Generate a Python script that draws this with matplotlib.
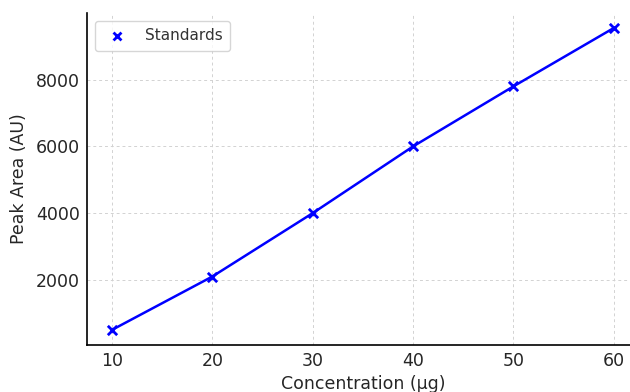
import numpy as np
import matplotlib.pyplot as plt

# Calibration standards
concentration = [10, 20, 30, 40, 50, 60]
peak_area = [500, 2100, 4000, 6000, 7800, 9550]
y_ticks = [2000, 4000, 6000, 8000]

fig = plt.figure(figsize=(6.3, 3.92), dpi=100)
ax = fig.add_axes([0.138, 0.12, 0.876, 0.847])

ax.plot(concentration, peak_area, color="blue", linewidth=1.8)
ax.scatter(concentration, peak_area, marker="x", color="blue", s=45,
           linewidths=2, label="Standards", zorder=3)

ax.set_xlabel("Concentration (µg)", fontsize=12.5, labelpad=4, color="#262626")
ax.set_ylabel("Peak Area (AU)", fontsize=12.5, labelpad=6, color="#262626")
ax.set_xticks(concentration)
ax.set_yticks(y_ticks)
ax.tick_params(labelsize=12.5, length=0, pad=5, colors="#262626")
ax.grid(True, linestyle=(0, (3, 3)), color="#d2d2d2", linewidth=0.7)
ax.spines["top"].set_visible(False)
ax.spines["right"].set_visible(False)
ax.spines["left"].set_linewidth(1.2)
ax.spines["bottom"].set_linewidth(1.2)

leg = ax.legend(loc="upper left", fontsize=11, borderpad=0.5,
                handletextpad=0.8, markerscale=0.85)
for t in leg.get_texts():
    t.set_color("#333333")

fig.savefig("out.png", dpi=100)
